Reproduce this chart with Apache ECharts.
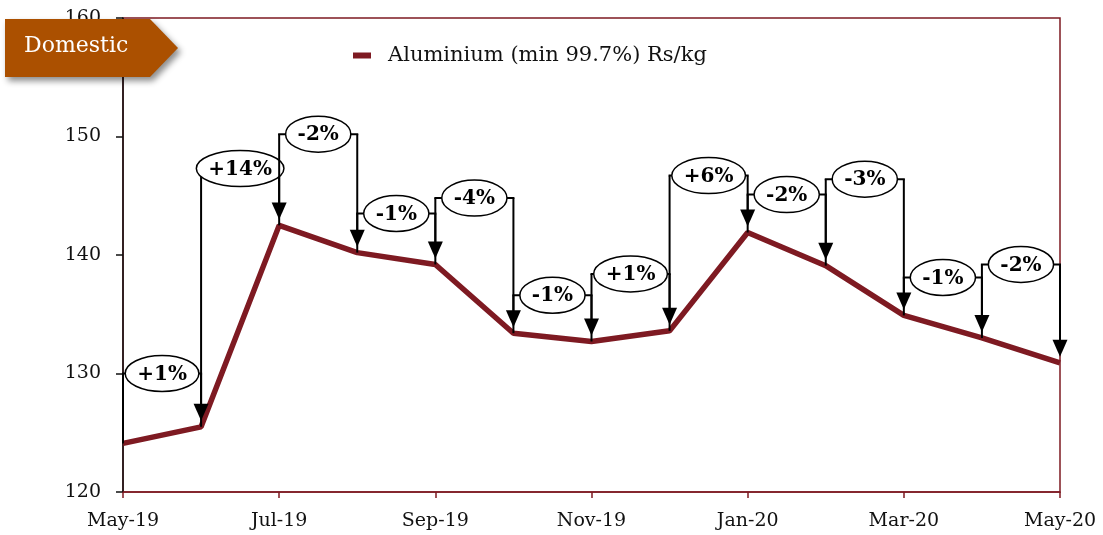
<!DOCTYPE html>
<html>
<head>
<meta charset="utf-8">
<script src="https://cdn.jsdelivr.net/npm/echarts@6/dist/echarts.min.js"></script>
<style>
html,body{margin:0;padding:0;background:#fff;}
#chart{width:1103px;height:535px;}
</style>
</head>
<body>
<div id="chart"></div>
<script>
// month categories
var months = ['May-19','Jun-19','Jul-19','Aug-19','Sep-19','Oct-19','Nov-19','Dec-19','Jan-20','Feb-20','Mar-20','Apr-20','May-20'];
// Aluminium (min 99.7%) Rs/kg
var aluminium = [124.1,125.5,142.5,140.2,139.2,133.4,132.7,133.6,141.9,139.1,134.9,133.0,130.9];
// month-on-month change callouts
var changeLabels = ['+1%','+14%','-2%','-1%','-4%','-1%','+1%','+6%','-2%','-3%','-1%','-2%'];
// height of each callout bracket (in Rs/kg units)
var bracketLevels = [130.0,147.3,150.2,143.5,144.8,136.6,138.4,146.7,145.1,146.4,138.1,139.2];

var lineColor = '#7E1A22';
var serif = '"DejaVu Serif", serif';
var calloutFont = 'bold 20px "DejaVu Serif"';

// measure text for ellipse sizes
var ctx = document.createElement('canvas').getContext('2d');
ctx.font = calloutFont;
function textW(s){ return ctx.measureText(s).width; }

var callouts = [];
for (var i = 0; i < changeLabels.length; i++) {
	callouts.push([i, bracketLevels[i]]);
}

function renderCallout(params, api){
	var i = api.value(0);
	var lvl = api.value(1);
	var p0 = api.coord([i, aluminium[i]]);
	var p1 = api.coord([i + 1, aluminium[i + 1]]);
	var top = api.coord([i, lvl])[1];
	var x0 = p0[0], x1 = p1[0];
	var tipY = p1[1] - 6;
	var baseY = tipY - 17;
	var cx = (x0 + x1) / 2;
	var txt = changeLabels[i];
	var rx = textW(txt) / 2 + 12;
	var ry = 18;
	var ls = {stroke: '#000', lineWidth: 2};
	return {
		type: 'group',
		children: [
			{type: 'line', shape: {x1: x0, y1: p0[1], x2: x0, y2: top}, style: ls},
			{type: 'line', shape: {x1: x0 - 1, y1: top, x2: x1 + 1, y2: top}, style: ls},
			{type: 'line', shape: {x1: x1, y1: top, x2: x1, y2: baseY + 1}, style: ls},
			{type: 'polygon', shape: {points: [[x1 - 7.5, baseY], [x1 + 7.5, baseY], [x1, tipY]]}, style: {fill: '#000'}},
			{type: 'ellipse', shape: {cx: cx, cy: top, rx: rx, ry: ry}, style: {fill: '#fff', stroke: '#000', lineWidth: 1.5}},
			{type: 'text', x: cx, y: top + 1, style: {text: txt, font: calloutFont, fill: '#000', align: 'center', verticalAlign: 'middle'}}
		]
	};
}

var chart = echarts.init(document.getElementById('chart'));
var option = {
	backgroundColor: '#fff',
	animation: false,
	grid: {
		left: 123, right: 43, top: 18, bottom: 43,
		show: true,
		borderColor: lineColor,
		borderWidth: 1.5,
		backgroundColor: 'transparent'
	},
	legend: {
		left: 348,
		top: 40,
		itemWidth: 18,
		itemHeight: 6,
		icon: 'rect',
		textStyle: {fontFamily: serif, fontSize: 21, color: '#111', padding: [0, 0, 0, 12]},
		data: ['Aluminium (min 99.7%) Rs/kg']
	},
	xAxis: {
		type: 'category',
		data: months,
		boundaryGap: false,
		axisLine: {lineStyle: {color: lineColor, width: 1.5}},
		axisTick: {interval: 1, length: 6, lineStyle: {color: lineColor, width: 1.5}},
		axisLabel: {interval: 1, margin: 20, fontFamily: serif, fontSize: 19, color: '#111'},
		splitLine: {show: false}
	},
	yAxis: {
		type: 'value',
		min: 120,
		max: 160,
		interval: 10,
		axisLine: {show: true, lineStyle: {color: '#111', width: 1.5}},
		axisTick: {show: true, length: 7, lineStyle: {color: '#111', width: 1.5}},
		axisLabel: {margin: 22, fontFamily: serif, fontSize: 19, color: '#111'},
		splitLine: {show: false}
	},
	series: [
		{
			name: 'Aluminium (min 99.7%) Rs/kg',
			type: 'line',
			data: aluminium,
			symbol: 'none',
			z: 3,
			lineStyle: {color: lineColor, width: 5.5},
			itemStyle: {color: lineColor}
		},
		{
			type: 'custom',
			renderItem: renderCallout,
			data: callouts,
			z: 4,
			silent: true,
			clip: false,
			encode: {x: 0, y: 1}
		}
	],
	graphic: [
		{
			type: 'polygon',
			z: 100,
			shape: {points: [[5, 19], [150, 19], [178, 48], [150, 77], [5, 77]]},
			style: {fill: '#AB5000', shadowBlur: 6, shadowOffsetX: 3, shadowOffsetY: 4, shadowColor: 'rgba(0,0,0,0.45)'}
		},
		{
			type: 'text',
			z: 101,
			left: 24,
			top: 35,
			style: {text: 'Domestic', font: '22px "DejaVu Serif"', fill: '#fff'}
		}
	]
};
chart.setOption(option);
</script>
</body>
</html>
